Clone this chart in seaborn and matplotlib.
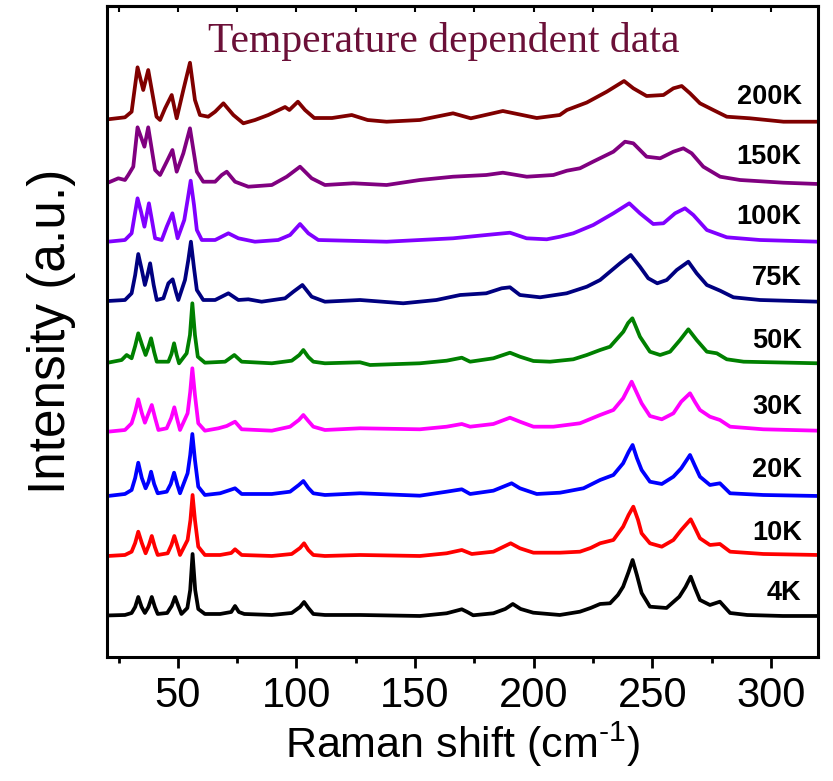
import matplotlib
matplotlib.use("Agg")
import matplotlib.pyplot as plt
import seaborn as sns
import pandas as pd

# ---- data: (Raman shift, stacked intensity a.u.) ----
s4K = [(20, 41.5), (27.7, 42), (30.5, 44), (32, 50), (33.3, 60), (34.7, 50), (36.1, 44), (37.6, 50),
       (39, 60), (40.3, 50), (41.5, 43), (45.5, 44), (47.4, 51), (48.8, 60), (50.2, 51), (51.5, 43),
       (54, 49), (55.2, 67), (56.2, 103), (57.3, 67), (58.6, 48), (61.4, 43), (67.8, 43), (72.5, 45),
       (74.1, 51), (75.7, 45), (78, 43), (89.6, 42), (98, 44), (101.5, 50), (103.2, 55), (105, 49),
       (107.1, 43), (112, 42), (126.8, 42), (152, 41), (163.3, 43.7), (167, 46), (169.7, 47.7),
       (172, 45), (174.5, 41.7), (183, 43.7), (188, 48), (191.2, 53), (194.5, 48), (199.8, 44.3),
       (211, 42), (219.5, 45.3), (224, 49), (228, 53), (232.2, 53.7), (235.5, 62), (237.7, 70.3),
       (240, 85), (241.7, 97), (243.5, 82), (245.5, 64), (249, 50.3), (256, 49), (261.4, 60.3),
       (264, 70), (266.2, 80.3), (268, 69), (270.1, 57), (274.3, 52), (278.5, 55.3), (282.8, 44),
       (290, 42), (305, 41), (320, 41)]
s10K = [(20.5, 101), (27.7, 102), (30.5, 105.3), (32, 114), (33.3, 125.3), (34.8, 114), (36.4, 103.7),
        (37.8, 112), (39, 121), (40.3, 110), (41.5, 102), (45.7, 103.7), (47.3, 112), (48.5, 121),
        (49.8, 111), (50.9, 102), (54.1, 117), (55.3, 137), (56.2, 162), (57.2, 137), (58.6, 110.3),
        (61.4, 102), (67.8, 102), (72.5, 104), (74.1, 107.7), (76.9, 102), (89.6, 101), (98, 103),
        (101.5, 109), (103.2, 113.7), (105, 107), (107.1, 102), (112, 101), (126.8, 102), (152, 101),
        (163.3, 103.7), (169.7, 107), (173.9, 103), (183, 105.3), (190.3, 113.7), (194.2, 108.7),
        (199.9, 104.3), (211.1, 104.3), (219.5, 105.3), (224, 109), (228, 113.7), (233.6, 117),
        (237.7, 130.3), (240, 142), (242, 150.3), (244, 137), (245.5, 123.7), (249, 113.7),
        (254, 110.3), (258.9, 117), (262.2, 127), (266.2, 137.7), (268, 129), (270.1, 118.7),
        (274.3, 112), (278.5, 113), (282.8, 105.3), (296.8, 103), (320, 102)]
s20K = [(20.5, 161), (27.7, 163), (30.5, 167), (32, 179), (33.3, 194.3), (34.8, 179), (36.4, 168.7),
        (37.6, 175), (38.7, 185.3), (40, 173), (41.5, 163.7), (45.3, 165.3), (47, 173), (48.4, 184.3),
        (49.8, 172), (50.9, 163.7), (54.1, 183.7), (55.2, 202), (56.1, 223), (57.2, 197), (58.6, 170.3),
        (61.4, 162), (67.8, 163.7), (72, 167), (74.1, 168.7), (76.9, 163), (89.6, 163), (97.3, 165.3),
        (101, 172), (102.9, 176), (105, 169), (107.1, 163.7), (112, 162), (126.8, 163.7), (152, 161.3),
        (163.3, 165.3), (169.7, 167.7), (173.2, 163), (183, 166.3), (190.7, 173.7), (194.2, 168.7),
        (201.3, 163), (211.1, 164.3), (221, 168.7), (228, 177), (233.6, 182), (237.7, 193.7),
        (240, 205), (241.7, 212), (243.5, 199), (245.5, 187), (249, 175.3), (254, 173), (258.9, 180.3),
        (262.2, 188.7), (265.9, 202), (268, 191), (270.1, 180.3), (274.3, 172), (278.5, 173.7),
        (282.8, 163.7), (296.8, 162), (320, 161)]
s30K = [(20.5, 225.3), (27.7, 227), (30.5, 233.7), (32, 245), (33.3, 257.7), (34.8, 244), (36.1, 234.3),
        (37.7, 244), (39, 252), (40.4, 239), (41.8, 227), (45.3, 228.7), (47.2, 239), (48.5, 249.7),
        (49.8, 237), (50.9, 227), (54.1, 243.7), (55.2, 265), (56.1, 288.7), (57.2, 262), (58.6, 233.7),
        (61.4, 226.3), (67.1, 228.7), (70.6, 231), (74.1, 235.3), (76.9, 227.7), (89.6, 226.3),
        (97.3, 230.3), (101, 237), (102.9, 242), (105, 236), (107.1, 230.3), (112, 227), (126.8, 228.7),
        (152, 227.7), (163.3, 230.3), (169.7, 233), (173.2, 230.3), (183, 233), (190, 239.3),
        (194.2, 235.3), (199.9, 230.3), (208.3, 230.3), (219.5, 233.7), (228, 242), (233.6, 247),
        (237.7, 258.7), (239.5, 267), (241.3, 275.3), (243.3, 265), (245.5, 253.7), (249, 241),
        (254, 237.7), (258.9, 243.7), (262.2, 255.3), (265.9, 263.7), (268, 255), (270.1, 247),
        (274.3, 240.3), (278.5, 237), (282.8, 230.3), (296.8, 227.7), (320, 226.3)]
s50K = [(20.5, 294.3), (26.3, 297), (28.4, 302), (30.5, 298.7), (32, 311), (33.3, 323.7), (34.9, 312),
        (36.4, 302), (37.6, 310), (38.7, 318.7), (40, 305), (41.1, 295.3), (46, 295.3), (47.3, 303),
        (48.4, 313.7), (49.5, 302), (50.5, 293.7), (53.7, 303.7), (55.1, 322), (56.1, 353.7),
        (57.2, 322), (58.4, 300.3), (61.4, 294.3), (69.9, 295.3), (73.8, 302), (76.9, 295.3),
        (89.6, 293.7), (98, 296.3), (101.2, 302), (102.9, 307), (105, 300), (107.1, 295.3), (112, 293.7),
        (126.8, 294.7), (131, 292), (152, 293.7), (163.3, 296.3), (169.7, 299.3), (173.2, 295.3),
        (183, 298.7), (190, 304.3), (194.2, 300.3), (199.9, 296), (206.9, 295.3), (216.7, 297.7),
        (222.4, 302), (228, 307), (232.2, 310.3), (237.8, 325.3), (239.8, 334), (241.6, 338.7),
        (243.3, 329), (244.8, 320.3), (249, 305.3), (253.3, 302), (257.5, 305.3), (261.7, 317),
        (265.2, 327.7), (268.7, 317), (273, 305.3), (277.2, 303.7), (281.4, 297.7), (288.5, 295.3),
        (320, 293.7)]
s75K = [(20.5, 356), (27.7, 357), (30.5, 363.7), (32, 382), (33.3, 403), (34.8, 387), (36.1, 372),
        (37.2, 382), (38.3, 393.7), (39.8, 372), (41.1, 357), (43.9, 358.7), (46, 373.7), (47.8, 377.7),
        (49.2, 365), (50.2, 357), (53, 377), (54.4, 397), (55.5, 415.3), (56.8, 389), (58, 367),
        (60.7, 357), (65.7, 357), (71.3, 363.7), (75.5, 357), (79.7, 357.7), (85.3, 355.3),
        (95.2, 358.7), (98.7, 365.3), (102.5, 372), (106.4, 360.3), (112, 355.3), (126.8, 357),
        (145, 353.7), (159, 357), (169, 362), (180, 363.7), (186.5, 368.7), (190, 369.7), (194.2, 362),
        (202.7, 359.7), (213.9, 363.7), (222.4, 370.3), (228, 377), (236.4, 393.7), (240.9, 402),
        (244.8, 390.3), (248.3, 378.7), (252.1, 373.7), (256.1, 377), (260.3, 387), (265.2, 395.3),
        (268.7, 383.7), (273, 372), (278.6, 366.3), (284.2, 359.7), (295.4, 357), (320, 355.3)]
s100K = [(20.5, 415.3), (27.7, 417), (30.5, 423.7), (31.8, 442), (33, 458.7), (34.5, 445), (35.9, 430.3),
         (37.8, 453.7), (39.2, 435), (40.4, 418.7), (43.2, 417), (45.3, 430.3), (47.7, 443.7),
         (49.9, 418.7), (52.7, 437), (54.1, 457), (55.4, 476.3), (56.8, 452), (58, 427), (60.1, 417),
         (65.7, 417), (71.3, 423.7), (75.5, 418.7), (82.5, 415.3), (92.3, 417), (97.3, 422),
         (101.5, 433), (105, 423.7), (109.2, 417), (138, 415.3), (152, 417), (166, 418.7), (180, 422),
         (190, 424.3), (197, 418.7), (205.5, 417.7), (211.1, 420.3), (216.7, 423.7), (225.1, 432),
         (233.6, 443.7), (240.3, 453.7), (244.8, 443.7), (250.4, 433), (254.7, 433.7), (259.6, 443.7),
         (263.8, 448.7), (267.3, 442), (273, 427), (281.4, 419.7), (295.4, 417), (320, 415.3)]
s150K = [(20.5, 474.3), (24.9, 478.7), (27.7, 477), (29.1, 482), (31.2, 490.3), (33, 529.7),
         (35.9, 510.3), (37.5, 529.7), (40.4, 487), (42.5, 482), (45.3, 495.3), (47.7, 507),
         (49.5, 485.3), (52.3, 503.7), (55.1, 528.7), (58, 485.3), (60.7, 475.3), (65.7, 475.3),
         (68.5, 482), (70.6, 485.3), (74.1, 475.3), (79.7, 470.3), (89.6, 472), (95.9, 480.3),
         (101.5, 490.3), (106.4, 478.7), (112, 472), (124, 473.7), (138, 472), (152, 477), (166, 480.3),
         (180, 482), (187, 484.3), (197.1, 480.3), (208.3, 482), (214, 486.3), (219.5, 488.7),
         (225, 495.3), (233.6, 505.3), (238.5, 515.3), (242, 513.7), (247.6, 500.3), (253.3, 498.7),
         (258.9, 505.3), (263.1, 508.7), (266.6, 503.7), (271.5, 490.3), (278.6, 480.3), (287, 477),
         (305.3, 474.3), (320, 473)]
s200K = [(20.5, 537.7), (27.7, 539.7), (30.5, 545.3), (33, 589.7), (35.4, 567), (37.5, 587), (41, 540.3),
         (42.5, 537), (44.6, 548.7), (47.4, 562), (49.5, 538.7), (52.3, 567), (55.1, 594.3), (57.2, 557),
         (59.3, 542), (62.8, 540.3), (65.7, 545.3), (69.2, 553.7), (73.4, 542), (77.6, 533.7),
         (82.5, 537), (88.1, 542), (95.2, 550), (97, 547), (100.6, 555.3), (103.6, 547), (107.5, 539),
         (115, 539), (123.3, 542), (130, 537), (138, 535.3), (152, 537), (166, 543.7), (173.5, 538.7),
         (187, 546), (201.3, 539), (211, 542), (214, 547), (222.4, 554.5), (230.8, 565.3), (238.1, 576),
         (242, 568.7), (247.6, 561), (254.7, 562), (258.9, 568.7), (262.4, 571), (265.9, 563.7),
         (270.1, 553.7), (275.7, 547), (281.4, 540.3), (291.2, 538.7), (305.3, 535.3), (320, 535.3)]

temps = ["4K", "10K", "20K", "30K", "50K", "75K", "100K", "150K", "200K"]
colors = ["#000000", "#ff0000", "#0000ff", "#ff00ff", "#008000", "#000080", "#8000ff", "#800080", "#800000"]
label_y = [64, 124, 187, 250, 316, 379, 440, 500, 560]
x_ticks = [50, 100, 150, 200, 250, 300]
spectra = [s4K, s10K, s20K, s30K, s50K, s75K, s100K, s150K, s200K]

rows = []
for t, spec in zip(temps, spectra):
    for xv, yv in spec:
        rows.append({"T": t, "shift": xv, "intensity": yv})
df = pd.DataFrame(rows)

sns.set_theme(style="ticks")
plt.rcParams["font.family"] = ["Liberation Sans", "DejaVu Sans"]
plt.rcParams["mathtext.fontset"] = "custom"
plt.rcParams["mathtext.rm"] = "Liberation Sans"
plt.rcParams["mathtext.it"] = "Liberation Sans"
plt.rcParams["text.color"] = "black"
plt.rcParams["axes.labelcolor"] = "black"
plt.rcParams["xtick.color"] = "black"
plt.rcParams["ytick.color"] = "black"

fig = plt.figure(figsize=(8.33, 7.81), dpi=100)
ax = fig.add_axes([0.1281, 0.1588, 0.8543, 0.8335])

sns.lineplot(data=df, x="shift", y="intensity", hue="T", hue_order=temps,
             palette=dict(zip(temps, colors)), estimator=None, sort=False,
             legend=False, linewidth=2.7, ax=ax)

ax.set_xlim(20, 320)
ax.set_ylim(0, 651)
ax.set_yticks([])
ax.set_xticks(x_ticks)
ax.set_xticklabels([str(v) for v in x_ticks], fontsize=30, color="black")
ax.set_xticks([25, 75, 125, 175, 225, 275], minor=True)
ax.tick_params(axis="x", which="major", direction="out", length=8, width=2, pad=6, colors="black")
ax.tick_params(axis="x", which="minor", direction="out", length=4, width=2, colors="black")
for sp in ax.spines.values():
    sp.set_linewidth(2.2)
    sp.set_color("black")

top = ax.secondary_xaxis("top")
top.set_xticks(x_ticks)
top.set_xticks([25, 75, 125, 175, 225, 275], minor=True)
top.tick_params(which="both", direction="in", length=4, width=1.5, labeltop=False, colors="black")
top.spines["top"].set_linewidth(2.2)

ax.set_xlabel("Raman shift (cm$^{\\mathrm{\u2010}1}$)", fontsize=31, labelpad=2, color="black")
ax.set_ylabel("Intensity (a.u.)", fontsize=37, labelpad=22, color="black")

for t, yv in zip(temps, label_y):
    ax.text(313, yv, t, ha="right", va="center", fontsize=19.5, fontweight="bold", color="black")

ax.text(162, 605, "Temperature dependent data", family=["Liberation Serif"], fontsize=30,
        color="#6b1038", ha="center", va="baseline")

fig.savefig("out.png", dpi=100)
